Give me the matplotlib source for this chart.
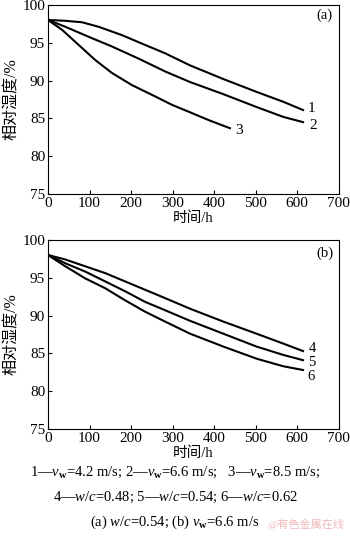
import matplotlib
matplotlib.use('Agg')
from matplotlib import pyplot as plt

plt.rcParams['font.family'] = ['Liberation Serif', 'Noto Sans CJK SC']
plt.rcParams['mathtext.fontset'] = 'custom'
plt.rcParams['mathtext.rm'] = 'Liberation Serif'
plt.rcParams['mathtext.it'] = 'Liberation Serif:italic'
plt.rcParams['mathtext.bf'] = 'Liberation Serif:bold'

# panel (a): wind speed series (w/c = 0.54)
t1 = [0, 40, 82, 122, 178, 234, 282, 342, 422, 502, 566, 614]
rh1 = [98.0, 97.9, 97.7, 97.1, 96.0, 94.7, 93.6, 92.0, 90.2, 88.5, 87.2, 86.1]
t2 = [0, 42, 97, 154, 218, 282, 342, 422, 502, 566, 614]
rh2 = [98.0, 97.1, 95.8, 94.5, 92.9, 91.2, 89.8, 88.2, 86.5, 85.2, 84.5]
t3 = [0, 34, 74, 114, 154, 202, 258, 298, 342, 390, 438]
rh3 = [98.0, 96.7, 94.7, 92.7, 91.0, 89.4, 87.9, 86.8, 85.8, 84.7, 83.7]

# panel (b): w/c series (v_w = 6.6 m/s)
t4 = [0, 42, 90, 138, 186, 234, 282, 342, 422, 502, 566, 614]
rh4 = [98.0, 97.4, 96.5, 95.6, 94.5, 93.4, 92.3, 90.9, 89.2, 87.6, 86.3, 85.3]
t5 = [0, 42, 90, 138, 186, 234, 282, 342, 422, 502, 566, 614]
rh5 = [98.0, 96.9, 95.8, 94.5, 93.2, 91.8, 90.7, 89.3, 87.6, 85.9, 84.8, 84.1]
t6 = [0, 42, 90, 138, 186, 234, 282, 342, 422, 502, 566, 614]
rh6 = [98.0, 96.5, 94.9, 93.6, 92.0, 90.5, 89.2, 87.6, 85.9, 84.3, 83.3, 82.8]

xticks = [0, 100, 200, 300, 400, 500, 600, 700]
yticks = [75, 80, 85, 90, 95, 100]

fig = plt.figure(figsize=(3.5, 5.39), dpi=100)
ax_a = fig.add_axes([0.137, 0.640, 0.831, 0.351])
ax_b = fig.add_axes([0.137, 0.204, 0.831, 0.351])

def setup(ax, tag, tag_y):
    ax.set_xlim(0, 700)
    ax.set_ylim(75, 100)
    ax.set_xticks(xticks)
    ax.set_yticks(yticks)
    ax.tick_params(direction='in', labelsize=11, length=3, width=0.8, pad=2,
                   top=False, right=False)
    for s in ax.spines.values():
        s.set_linewidth(0.8)
    ax.set_xlabel('时间/h', fontsize=10.5, labelpad=1)
    ax.set_ylabel('相对湿度/%', fontsize=11.5, labelpad=2)
    ax.text(666, tag_y, tag, fontsize=10.5, ha='center', va='center')

setup(ax_a, '(a)', 98.6)
setup(ax_b, '(b)', 98.2)

for t, rh in [(t1, rh1), (t2, rh2), (t3, rh3)]:
    ax_a.plot(t, rh, color='black', lw=1.5)
for t, rh in [(t4, rh4), (t5, rh5), (t6, rh6)]:
    ax_b.plot(t, rh, color='black', lw=1.5)

ax_a.text(624, 86.3, '1', fontsize=11, ha='left', va='center')
ax_a.text(628, 84.1, '2', fontsize=11, ha='left', va='center')
ax_a.text(450, 83.4, '3', fontsize=11, ha='left', va='center')
ax_b.text(628, 85.6, '4', fontsize=10.5, ha='left', va='center')
ax_b.text(626, 83.8, '5', fontsize=10.5, ha='left', va='center')
ax_b.text(624, 81.9, '6', fontsize=10.5, ha='left', va='center')

fig.text(0.5, 1 - 472 / 539, r'1—$v_\mathbf{w}$=4.2 m/s; 2—$v_\mathbf{w}$=6.6 m/s;   3—$v_\mathbf{w}$=8.5 m/s;',
         fontsize=10.5, ha='center', va='center')
fig.text(0.5, 1 - 497 / 539, r'4—$w/c$=0.48; 5—$w/c$=0.54; 6—$w/c$=0.62',
         fontsize=10.5, ha='center', va='center')
fig.text(0.5, 1 - 522 / 539, r'(a) $w/c$=0.54; (b) $v_\mathbf{w}$=6.6 m/s',
         fontsize=10.5, ha='center', va='center')
fig.text(0.985, 1 - 524 / 539, '@有色金属在线', fontsize=8, color='#f0b8b8',
         ha='right', va='center')

plt.savefig('out.png', dpi=100)
plt.close()
